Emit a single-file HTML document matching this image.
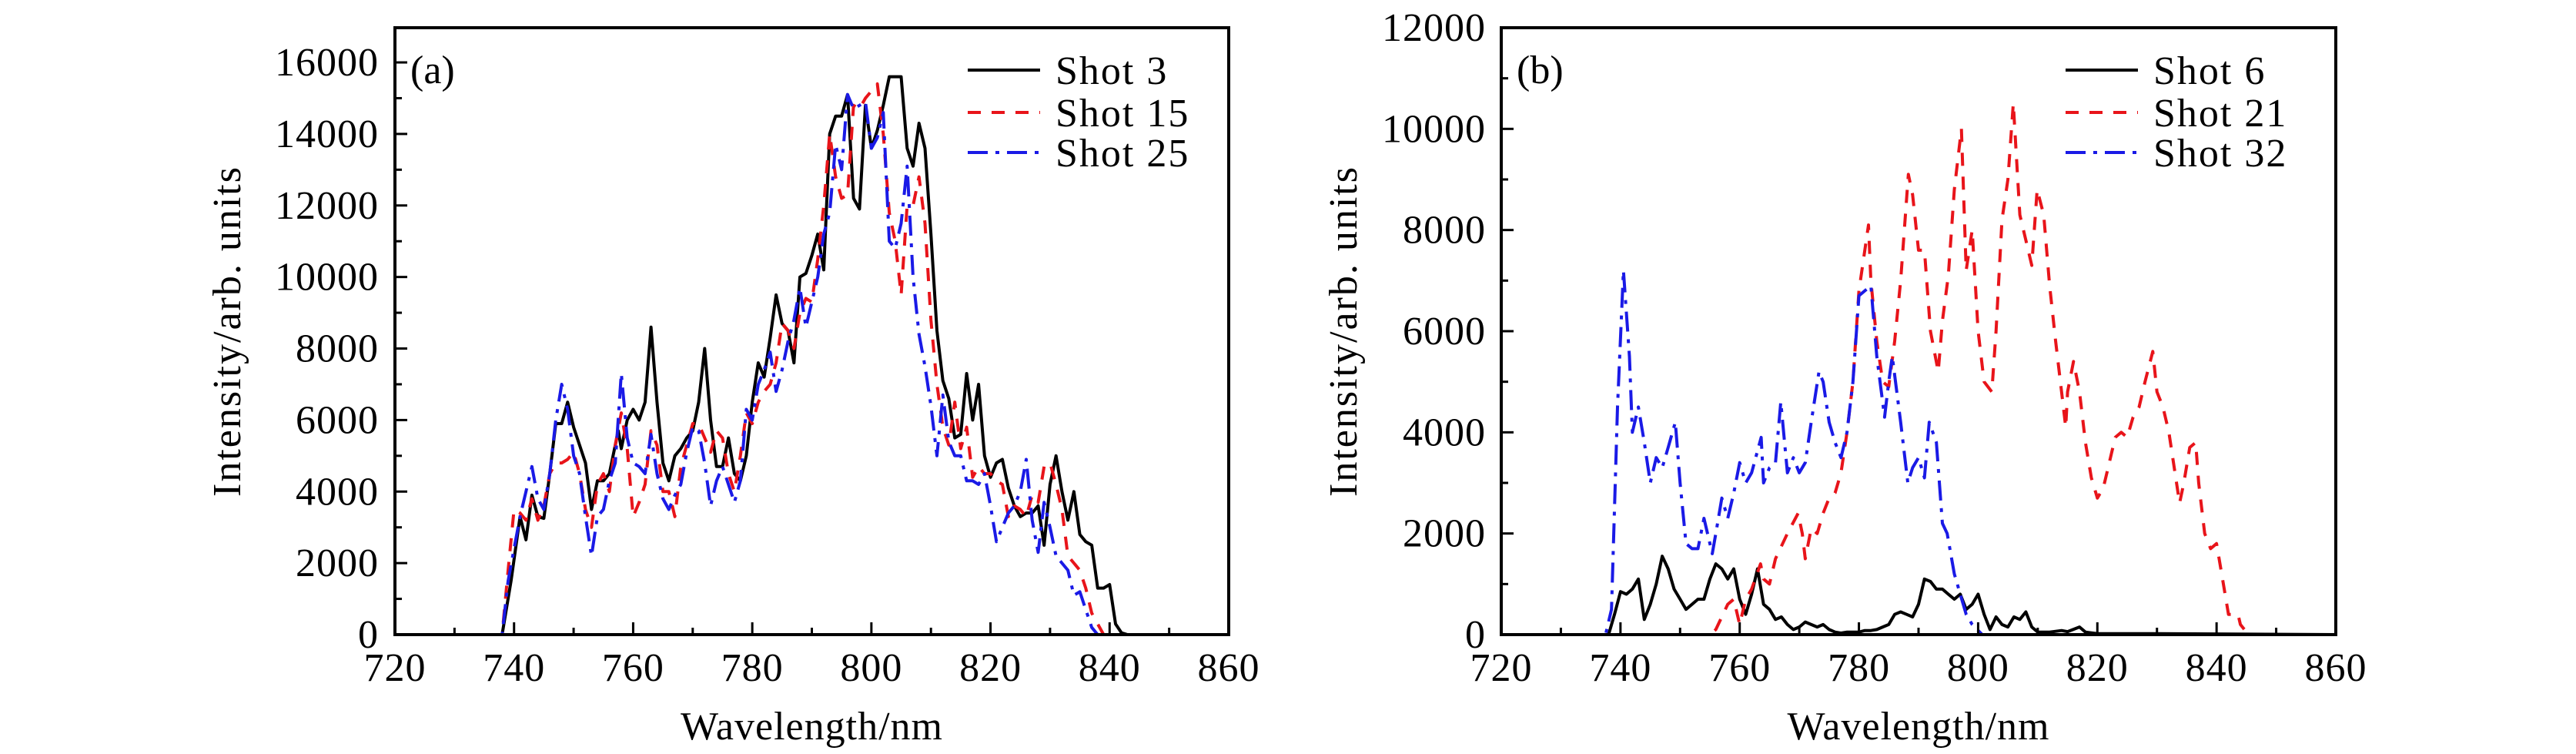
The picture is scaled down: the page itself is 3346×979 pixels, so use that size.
<!DOCTYPE html>
<html><head><meta charset="utf-8"><style>
html,body{margin:0;padding:0;background:#fff;}
svg{display:block;font-family:"Liberation Serif",serif;}
</style></head><body>
<svg id="chart" width="3346" height="979" viewBox="0 0 3346 979" xmlns="http://www.w3.org/2000/svg"></svg>
<script>
const xTicks = [720,740,760,780,800,820,840,860];
const yTicksA = [0,2000,4000,6000,8000,10000,12000,14000,16000];
const yTicksB = [0,2000,4000,6000,8000,10000,12000];
const legendA = ["Shot 3","Shot 15","Shot 25"];
const legendB = ["Shot 6","Shot 21","Shot 32"];
const shot3 = [[720,0],[738,0],[739.5,1500],[741,3300],[742,2650],[743,3900],[744,3300],[745,3250],[746,4500],[747,5900],[748,5900],[749,6500],[750,5800],[751,5300],[752,4800],[753,3500],[754,4300],[755,4300],[756,4500],[757,5300],[757.5,5700],[758,5200],[759,6000],[760,6300],[761,6000],[762,6500],[763,8600],[764,6500],[765,4800],[766,4300],[767,5000],[768,5200],[769,5500],[770,5700],[771,6500],[772,8000],[773,6000],[774,4700],[775,4700],[776,5500],[777,4500],[778,4300],[779,5000],[780,6500],[781,7600],[782,7200],[783,8300],[784,9500],[785,8700],[786,8500],[787,7600],[788,10000],[789,10100],[790,10600],[791,11200],[792,10200],[793,14000],[794,14500],[795,14500],[796,15100],[797,12200],[798,11900],[799,14800],[800,13600],[801,14100],[802,14800],[803,15600],[804,15600],[805,15600],[806,13600],[807,13100],[808,14300],[809,13600],[810,11200],[811,8500],[812,7100],[813,6600],[814,5500],[815,5600],[816,7300],[817,6000],[818,7000],[819,5000],[820,4400],[821,4800],[822,4900],[823,4100],[824,3600],[825,3300],[826,3400],[827,3400],[828,3600],[829,2500],[830,4200],[831,5000],[832,4000],[833,3200],[834,4000],[835,2800],[836,2600],[837,2500],[838,1300],[839,1300],[840,1400],[841,300],[842,50],[843,0],[860,0]];
const shot15 = [[720,0],[738,0],[739,1800],[740,3500],[741,3400],[742,3200],[743,3800],[744,3200],[745,3600],[746,4500],[747,4800],[748,4800],[749,4900],[750,5100],[751,4500],[752,3500],[753,3000],[754,4200],[755,4500],[756,4000],[757,5300],[758,6200],[759,5200],[760,3300],[761,3700],[762,4200],[763,5700],[764,5300],[765,4000],[766,4000],[767,3300],[768,4700],[769,5300],[770,5900],[771,5900],[772,5500],[773,5100],[774,5700],[775,5500],[776,4500],[777,4000],[778,5000],[779,6200],[780,5900],[781,6500],[782,6800],[783,7000],[784,7600],[785,8700],[786,8500],[787,8000],[788,9000],[789,9400],[790,9300],[791,10500],[792,12000],[793,14000],[794,12800],[795,12200],[796,12300],[797,14800],[798,14700],[799,15000],[800,15200],[801,15400],[802,14000],[803,11800],[804,11000],[805,9500],[806,12000],[807,12000],[808,12800],[809,11500],[810,8800],[811,7000],[812,5800],[813,5300],[814,6500],[815,5200],[816,5800],[817,4400],[818,4700],[819,4500],[820,4500],[821,4300],[822,4200],[823,3300],[824,3600],[825,3500],[826,3300],[827,3900],[828,3700],[829,4700],[830,4800],[831,4200],[832,3500],[833,2200],[834,2000],[835,1800],[836,1300],[837,600],[838,300],[839,0],[860,0]];
const shot25 = [[720,0],[738,0],[739,1500],[740,2400],[741,3300],[742,4000],[743,4700],[744,3800],[745,3500],[746,4500],[747,6000],[748,7000],[749,6300],[750,5000],[751,4500],[752,3300],[753,2200],[754,3300],[755,3500],[756,4300],[757,4800],[758,7300],[759,5500],[760,4800],[761,4700],[762,4500],[763,5600],[764,4500],[765,3800],[766,3500],[767,3900],[768,4200],[769,5100],[770,5800],[771,5700],[772,4800],[773,3600],[774,4300],[775,4700],[776,4200],[777,3700],[778,4300],[779,6300],[780,6000],[781,7000],[782,7400],[783,7900],[784,6800],[785,7400],[786,8200],[787,8800],[788,9700],[789,8600],[790,9300],[791,10000],[792,11200],[793,11800],[794,13700],[795,13000],[796,15100],[797,14700],[798,14800],[799,14900],[800,13600],[801,13900],[802,14600],[803,11000],[804,10800],[805,11500],[806,13100],[807,10000],[808,8400],[809,7500],[810,6400],[811,5000],[812,6700],[813,5400],[814,5000],[815,5000],[816,4300],[817,4300],[818,4200],[819,4500],[820,3600],[821,2600],[822,3000],[823,3400],[824,3600],[825,4000],[826,4900],[827,3200],[828,2300],[829,3700],[830,3000],[831,2200],[832,2000],[833,1800],[834,1100],[835,1200],[836,700],[837,200],[838,0],[860,0]];
const shot6 = [[720,0],[738,0],[739,400],[740,850],[741,800],[742,900],[743,1100],[744,300],[745,600],[746,1000],[747,1550],[748,1300],[749,900],[750,700],[751,500],[752,600],[753,700],[754,700],[755,1100],[756,1400],[757,1300],[758,1100],[759,1300],[760,700],[761,400],[762,800],[763,1300],[764,600],[765,500],[766,300],[767,350],[768,200],[769,100],[770,150],[771,250],[772,200],[773,150],[774,200],[775,100],[776,50],[777,30],[778,50],[779,50],[780,50],[781,80],[782,80],[783,100],[784,150],[785,200],[786,400],[787,450],[788,400],[789,350],[790,600],[791,1100],[792,1050],[793,900],[794,900],[795,800],[796,700],[797,800],[798,500],[799,600],[800,800],[801,400],[802,100],[803,350],[804,200],[805,150],[806,350],[807,300],[808,450],[809,150],[810,50],[812,50],[814,80],[815,60],[817,150],[818,50],[820,20],[830,20],[860,0]];
const shot21 = [[720,0],[755,0],[756,100],[758,600],[759,700],[760,200],[761,700],[762,900],[763.5,1400],[764,1100],[765,1000],[766,1500],[768,2000],[769.8,2400],[770.5,2000],[771,1500],[772,2100],[773,2000],[774,2400],[775,2700],[776,2800],[777,3200],[778,4000],[779,5000],[780,6800],[781.6,8100],[782,7000],[783,5800],[784,5000],[785,4900],[786,5800],[787,7000],[788.3,9100],[789,8700],[790,7600],[791,7600],[792,6000],[793.3,5200],[794,6200],[795,7100],[796,8800],[797.2,10000],[798,7200],[799,8000],[800,6000],[801,5000],[802.3,4800],[803,6000],[804,8200],[805,9000],[805.9,10500],[807,8300],[808,7800],[809,7300],[809.9,8800],[811,8300],[812,6900],[813,5800],[814.7,4100],[815,4800],[816,5400],[817,4800],[818,3800],[819,3100],[820,2700],[821,2900],[822,3400],[823,3900],[824,4000],[825,3900],[826,4300],[827,4500],[828,5000],[829.3,5600],[830,4800],[831,4500],[832,4000],[833.8,2600],[834.5,3000],[835.5,3700],[836.5,3800],[837,3000],[838,2000],[839,1700],[840,1800],[841,1100],[842,400],[843.6,400],[844,200],[845,50],[846,0],[860,0]];
const shot32 = [[720,0],[737.5,0],[738.5,500],[739.5,4500],[740.5,7200],[741.5,5500],[742,4000],[743,4500],[744,3800],[745,3000],[746,3500],[747,3300],[748,3700],[749.2,4200],[750,3000],[751,1800],[752,1700],[753,1700],[754,2300],[755.4,1600],[756,2000],[757,2700],[758,2300],[759,2800],[760,3400],[761,3000],[762,3200],[763.6,3900],[764,3000],[765,3300],[766,3400],[766.9,4600],[768,3200],[769,3500],[770,3200],[771,3400],[772,4200],[773.3,5200],[774,5000],[775,4200],[776,3800],[777,3500],[778,4000],[779,5000],[780,6700],[781,6800],[782,6900],[783,5500],[784.3,4300],[785,5000],[785.6,5500],[787,4200],[788.2,3000],[789,3300],[790,3500],[791,3100],[791.8,4200],[793,3800],[794,2200],[794.8,2000],[796,1200],[797,800],[798,400],[799,200],[800.7,0],[860,0]];

const NS="http://www.w3.org/2000/svg";
const svg=document.getElementById('chart');
function mk(tag,attrs,parent){const e=document.createElementNS(NS,tag);for(const k in attrs)e.setAttribute(k,attrs[k]);(parent||svg).appendChild(e);return e;}
const FS=52;
function panel(cfg){
  const g=mk('g',{});
  
  
  const L=cfg.left,R=cfg.right,T=36,B=824;
  const xs=v=>L+(v-720)/(140)*(R-L);
  const ys=v=>B-v/cfg.ymax*(B-T);
  cfg.series.forEach(s=>{
    const p=mk('polyline',{points:s.data.map(d=>xs(d[0]).toFixed(1)+','+ys(d[1]).toFixed(1)).join(' '),fill:'none',stroke:s.color,'stroke-width':4,'stroke-linejoin':'round','stroke-dasharray':s.dash||'none'},g);
    
    
  });
  const fr=mk('rect',{x:L,y:T,width:R-L,height:B-T,fill:'none',stroke:'#000','stroke-width':4},g);
  
  
  for(let v=720;v<=860;v+=10){
    const major=xTicks.includes(v);
    mk('line',{x1:xs(v),x2:xs(v),y1:B,y2:B-(major?16:9),stroke:'#000','stroke-width':3},g);
  }
  xTicks.forEach(v=>{
    const t=mk('text',{x:xs(v),y:884,'font-size':FS,'text-anchor':'middle','letter-spacing':1},g);
    t.textContent=v;
    
    
  });
  for(let v=0;v<=cfg.ymax;v+=1000){
    const major=cfg.yt.includes(v);
    mk('line',{x1:L,x2:L+(major?16:9),y1:ys(v),y2:ys(v),stroke:'#000','stroke-width':3},g);
  }
  cfg.yt.forEach(v=>{
    const t=mk('text',{x:cfg.labR,y:ys(v)+17,'font-size':FS,'text-anchor':'end','letter-spacing':1},g);
    t.textContent=v;
    
    
  });
  const xt=mk('text',{x:(L+R)/2,y:960,'font-size':FS,'text-anchor':'middle','letter-spacing':1},g);
  xt.textContent='Wavelength/nm';
  
  
  const yt=mk('text',{x:0,y:0,'font-size':FS,'text-anchor':'middle','letter-spacing':2,transform:`translate(${cfg.ytx},${(T+B)/2}) rotate(-90)`},g);
  yt.textContent='Intensity/arb. units';
  
  
  const pl=mk('text',{x:L+20,y:108,'font-size':FS},g);
  pl.textContent=cfg.label;
  
  
  const rows=[91,146,198];
  cfg.series.forEach((s,i)=>{
    const lg=mk('g',{},g);
    
    
    mk('line',{x1:cfg.legX,x2:cfg.legX+94,y1:rows[i],y2:rows[i],stroke:s.color,'stroke-width':4,'stroke-dasharray':s.dash||'none'},lg);
    const t=mk('text',{x:cfg.legX+114,y:rows[i]+18,'font-size':FS,'letter-spacing':2},lg);
    t.textContent=cfg.legend[i];
  });
}
const dashR='17 14', dashB='26 10 5 10';
panel({name:'panel-a',left:513,right:1596,ymax:16970,yt:yTicksA,labR:492,ytx:312,label:'(a)',legX:1257,legend:legendA,
  series:[{id:'shot-3-line',data:shot3,color:'#000'},{id:'shot-15-line',data:shot15,color:'#e8141a',dash:dashR},{id:'shot-25-line',data:shot25,color:'#1a1ae6',dash:dashB}]});
panel({name:'panel-b',left:1950,right:3034,ymax:12000,yt:yTicksB,labR:1930,ytx:1762,label:'(b)',legX:2683,legend:legendB,
  series:[{id:'shot-6-line',data:shot6,color:'#000'},{id:'shot-21-line',data:shot21,color:'#e8141a',dash:dashR},{id:'shot-32-line',data:shot32,color:'#1a1ae6',dash:dashB}]});
</script>
</body></html>
